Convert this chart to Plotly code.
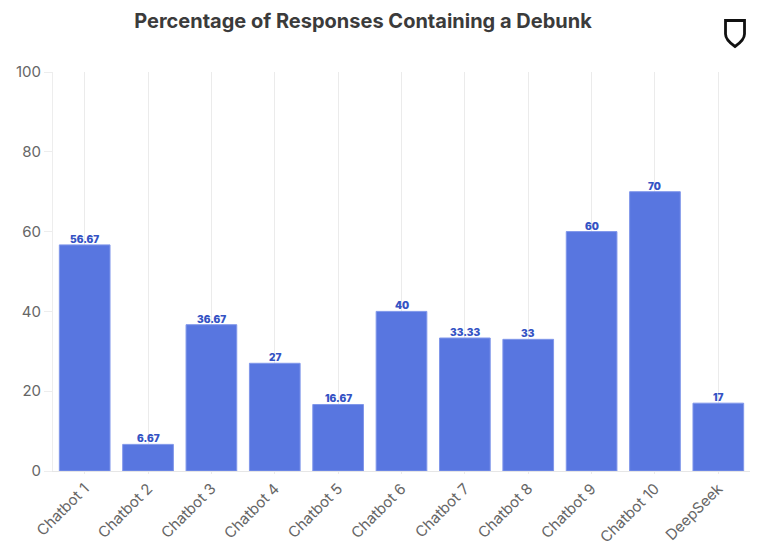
import plotly.graph_objects as go

# Data
chatbots = ['Chatbot 1', 'Chatbot 2', 'Chatbot 3', 'Chatbot 4', 'Chatbot 5', 'Chatbot 6',
            'Chatbot 7', 'Chatbot 8', 'Chatbot 9', 'Chatbot 10', 'DeepSeek']
debunk_pct = [56.67, 6.67, 36.67, 27, 16.67, 40, 33.33, 33, 60, 70, 17]
y_ticks = [0, 20, 40, 60, 80, 100]

# the page has an 8px body margin, so the figure itself starts at (8, 8)
W, H = 754, 541
OFF = 8
LEFT, RIGHT, TOP, BOTTOM = 53 - OFF, 750 - OFF, 72 - OFF, 471 - OFF

fig = go.Figure()
fig.add_trace(go.Bar(
    x=chatbots,
    y=debunk_pct,
    cliponaxis=False,
    marker=dict(color='#5876e0', line=dict(color='#8097ea', width=1)),
))

# value labels sit tight on top of the bars
for name, value in zip(chatbots, debunk_pct):
    fig.add_annotation(x=name, y=value, text=str(value), showarrow=False,
                       yanchor='bottom', yshift=-2,
                       font=dict(family='Inter', size=10, color='#3553c4', weight=900))

# logo, top right
def px(x, y):
    return f'{(x - OFF) / W:.4f},{1 - (y - OFF) / H:.4f}'

logo = ('M ' + px(725.5, 20.5) + ' L ' + px(744.5, 20.5) + ' L ' + px(744.5, 34)
        + ' Q ' + px(744.5, 40) + ' ' + px(735, 46.5) + ' Q ' + px(725.5, 40) + ' ' + px(725.5, 34) + ' Z')
fig.add_shape(type='path', path=logo, xref='paper', yref='paper', layer='above',
              line=dict(color='#111111', width=2.8), fillcolor='rgba(0,0,0,0)')

fig.update_layout(
    width=W,
    height=H,
    margin=dict(l=0, r=0, t=0, b=0, autoexpand=False),
    paper_bgcolor='white',
    plot_bgcolor='white',
    showlegend=False,
    bargap=0.2,
    font=dict(family='Inter', color='#5f5f5f'),
    title=dict(text='<b>Percentage of Responses Containing a Debunk</b>', x=(363 - OFF) / W, xanchor='center',
               y=1 - (21 - OFF) / H, yanchor='middle',
               font=dict(family='Inter', size=20, color='#3b3b3b', weight=800)),
    xaxis=dict(
        domain=[LEFT / W, RIGHT / W],
        showgrid=True, gridcolor='#ebebeb', gridwidth=1,
        tickangle=-45, tickfont=dict(size=15, color='#666666'),
        ticks='outside', ticklen=2, tickcolor='#ebebeb',
        showline=True, linecolor='#e6e6e6',
    ),
    yaxis=dict(
        domain=[1 - BOTTOM / H, 1 - TOP / H],
        range=[0, 100], tickvals=y_ticks,
        showgrid=False, zeroline=False,
        ticks='outside', ticklen=8, tickcolor='#ededed',
        showline=True, linecolor='#ededed',
        tickfont=dict(size=15, color='#666666'),
    ),
)

fig.write_html('out.html')
